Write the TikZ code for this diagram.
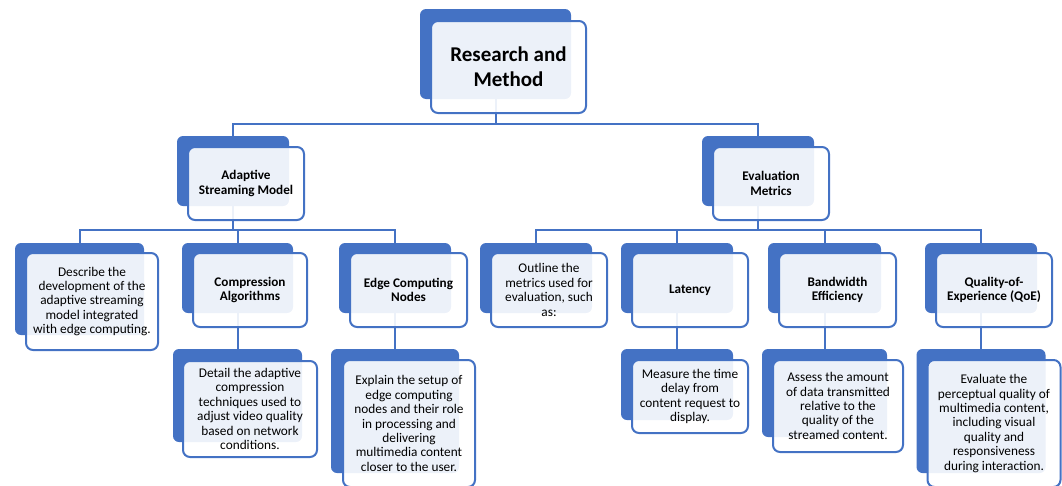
\documentclass[tikz,border=0pt]{standalone}
\usepackage{fontspec}
\setmainfont{Carlito}
\definecolor{acc}{HTML}{4472C4}
\pgfdeclarelayer{bg}
\pgfsetlayers{bg,main}
\tikzset{
  back/.style 2 args={fill=acc, draw=none, rounded corners=6pt, inner sep=0pt,
    minimum width=#1, minimum height=#2},
  front/.style 2 args={fill=white, fill opacity=0.9, text opacity=1, draw=acc,
    draw opacity=1, line width=2pt, rounded corners=7pt, inner sep=0pt,
    minimum width=#1, minimum height=#2, align=center, text=black},
  conn/.style={draw=acc, line width=2pt},
  lvlone/.style={font=\fontsize{21}{25}\selectfont\bfseries},
  lvltwo/.style={font=\fontsize{13.2}{14.7}\selectfont\bfseries},
  body/.style={font=\fontsize{13.3}{14.4}\selectfont},
}
\begin{document}
\begin{tikzpicture}[x=1pt, y=-1pt]
\useasboundingbox (0,0) rectangle (1062,485);
\clip (0,0) rectangle (1062,485);

% back boxes
\node[back={151}{90}] (rmB) at (495.5,54) {};
\node[back={112}{70}] (asmB) at (233,171) {};
\node[back={112}{70}] (emB) at (758,171) {};
\node[back={129}{92}] (descB) at (79.5,289) {};
\node[back={111}{70}] (compB) at (237.5,278) {};
\node[back={112}{70}] (edgeB) at (395,278) {};
\node[back={112}{70}] (outlB) at (536,278) {};
\node[back={112}{70}] (latB) at (677,278) {};
\node[back={113}{70}] (bwB) at (824.5,278) {};
\node[back={112}{70}] (qoeB) at (981,278) {};
\node[back={129}{93}] (detB) at (237.5,395.5) {};
\node[back={128}{124}] (explB) at (395,411) {};
\node[back={112}{71}] (measB) at (677,384.5) {};
\node[back={125}{88}] (assB) at (824.5,393) {};
\node[back={129}{124}] (evalB) at (981,411) {};

% connectors
\begin{pgfonlayer}{bg}
\draw[conn] (rmB.south) -- ++(0,24.5) -| (asmB.north);
\draw[conn] (rmB.south) -- ++(0,24.5) -| (emB.north);
\draw[conn] (asmB.south) -- ++(0,23.5) -| (descB.north);
\draw[conn] (asmB.south) -- ++(0,23.5) -| (compB.north);
\draw[conn] (asmB.south) -- ++(0,23.5) -| (edgeB.north);
\draw[conn] (emB.south) -- ++(0,23.5) -| (outlB.north);
\draw[conn] (emB.south) -- ++(0,23.5) -| (latB.north);
\draw[conn] (emB.south) -- ++(0,23.5) -| (bwB.north);
\draw[conn] (emB.south) -- ++(0,23.5) -| (qoeB.north);
\draw[conn] (compB.south) -- (detB.north);
\draw[conn] (edgeB.south) -- (explB.north);
\draw[conn] (latB.south) -- (measB.north);
\draw[conn] (bwB.south) -- (assB.north);
\draw[conn] (qoeB.south) -- (evalB.north);
\end{pgfonlayer}

% front boxes
\node[front={155}{92}, lvlone] (rm) at (508.5,67) {Research and\\Method};
\node[front={116}{73}, lvltwo] (asm) at (246,183.5) {Adaptive\\Streaming Model};
\node[front={116}{73}, lvltwo] (em) at (771,183.5) {Evaluation\\Metrics};
\node[front={132}{97}, body] (desc) at (92,301.5) {Describe the\\development of the\\adaptive streaming\\model integrated\\with edge computing.};
\node[front={114}{74}, lvltwo] (comp) at (250,290) {Compression\\Algorithms};
\node[front={117}{74}, lvltwo] (edge) at (408.5,290) {Edge Computing\\Nodes};
\node[front={116}{74}, body] (outl) at (549,290) {Outline the\\metrics used for\\evaluation, such\\as:};
\node[front={116}{74}, lvltwo] (lat) at (690,290) {Latency};
\node[front={117}{74}, lvltwo] (bw) at (837.5,290) {Bandwidth\\Efficiency};
\node[front={116}{74}, lvltwo] (qoe) at (994,290) {Quality-of-\\Experience (QoE)};
\node[front={134}{96}, body] (det) at (250,409) {Detail the adaptive\\compression\\techniques used to\\adjust video quality\\based on network\\conditions.};
\node[front={132}{127}, body] (expl) at (409,423.5) {Explain the setup of\\edge computing\\nodes and their role\\in processing and\\delivering\\multimedia content\\closer to the user.};
\node[front={116}{73}, body] (meas) at (690,396.5) {Measure the time\\delay from\\content request to\\display.};
\node[front={130}{92}, body] (ass) at (838,406) {Assess the amount\\of data transmitted\\relative to the\\quality of the\\streamed content.};
\node[front={133}{127}, body] (eval) at (994,423.5) {Evaluate the\\perceptual quality of\\multimedia content,\\including visual\\quality and\\responsiveness\\during interaction.};
\end{tikzpicture}
\end{document}
